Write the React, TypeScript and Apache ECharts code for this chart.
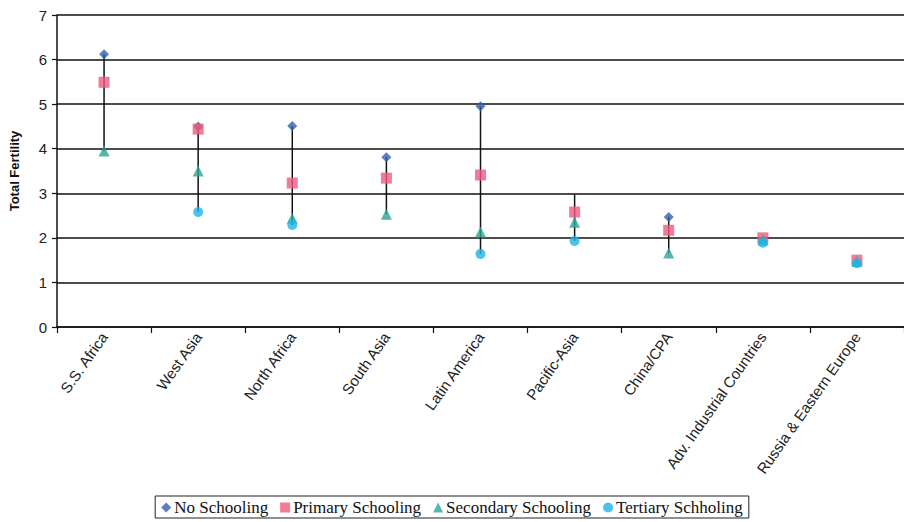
import React, { useEffect, useRef } from "react";
import * as echarts from "echarts";

const categories = [
  "S.S. Africa",
  "West Asia",
  "North Africa",
  "South Asia",
  "Latin America",
  "Pacific-Asia",
  "China/CPA",
  "Adv. Industrial Countries",
  "Russia & Eastern Europe",
];
const noSchooling = [6.12, 4.5, 4.51, 3.81, 4.95, 2.97, 2.47, null, null];
const primarySchooling = [5.49, 4.44, 3.23, 3.34, 3.41, 2.58, 2.17, 2.0, 1.5];
const secondarySchooling = [3.95, 3.5, 2.44, 2.53, 2.13, 2.35, 1.66, 1.95, 1.47];
const tertiarySchooling = [null, 2.58, 2.29, null, 1.64, 1.93, null, 1.89, 1.43];
// categories whose no-schooling marker is not visible in the source (only the range line reaches it)
const hiddenNoSchooling = [5];
const yTicks = [0, 1, 2, 3, 4, 5, 6, 7];

export default function App() {
  const ref = useRef<HTMLDivElement>(null);
  useEffect(() => {
    if (!ref.current) return;
    const chart = echarts.init(ref.current, null, { renderer: "svg" });
    const all = [noSchooling, primarySchooling, secondarySchooling, tertiarySchooling];
    const ranges = categories.map((_, i) => {
      const vals = all.map((a) => a[i]).filter((v) => v !== null) as number[];
      return [i, Math.min(...vals), Math.max(...vals)];
    });
    const sans = "Liberation Sans, Arial, sans-serif";
    const serif = "Liberation Serif, Times New Roman, serif";
    chart.setOption({
      animation: false,
      backgroundColor: "#fff",
      grid: { left: 57, top: 15, width: 856, bottom: 195, containLabel: false },
      xAxis: {
        type: "category",
        data: categories,
        boundaryGap: true,
        axisLine: { lineStyle: { color: "#111", width: 1.5 } },
        axisTick: { show: true, length: 6, lineStyle: { color: "#111", width: 1.2 } },
        axisLabel: {
          rotate: 55,
          fontFamily: sans,
          fontSize: 15,
          color: "#222",
          margin: 7,
          interval: 0,
        },
        splitLine: { show: false },
      },
      yAxis: {
        type: "value",
        min: yTicks[0],
        max: yTicks[yTicks.length - 1],
        interval: 1,
        name: "Total Fertility",
        nameLocation: "middle",
        nameGap: 36,
        nameTextStyle: { fontFamily: sans, fontSize: 13, fontWeight: "bold", color: "#111" },
        axisLine: { show: true, lineStyle: { color: "#111", width: 1.5 } },
        axisTick: { show: true, length: 5, lineStyle: { color: "#111", width: 1.2 } },
        axisLabel: { fontFamily: sans, fontSize: 15, color: "#222", margin: 10 },
        splitLine: { show: true, lineStyle: { color: "#111", width: 1.5 } },
      },
      legend: {
        data: ["No Schooling", "Primary Schooling", "Secondary Schooling", "Tertiary Schholing"],
        left: "center",
        top: 496,
        borderColor: "#222",
        borderWidth: 1,
        padding: [3, 6, 2, 6],
        itemWidth: 10,
        itemHeight: 10,
        itemGap: 12,
        textStyle: { fontFamily: serif, fontSize: 17, color: "#111", padding: [0, 0, 0, -2] },
      },
      series: [
        {
          type: "custom",
          name: "range",
          data: ranges,
          z: 1,
          renderItem: (params: any, api: any) => {
            const p1 = api.coord([api.value(0), api.value(1)]);
            const p2 = api.coord([api.value(0), api.value(2)]);
            return {
              type: "line",
              shape: { x1: p1[0], y1: p1[1], x2: p2[0], y2: p2[1] },
              style: { stroke: "#111", lineWidth: 1.5 },
            };
          },
        },
        {
          type: "scatter",
          name: "No Schooling",
          symbol: "diamond",
          symbolSize: 10,
          itemStyle: { color: "#2F5FAE" },
          z: 3,
          data: noSchooling.map((v, i) =>
            hiddenNoSchooling.includes(i) ? { value: v, symbolSize: 0 } : v
          ),
        },
        {
          type: "scatter",
          name: "Primary Schooling",
          symbol: "rect",
          symbolSize: 11,
          itemStyle: { color: "#EE5A7E" },
          z: 4,
          data: primarySchooling,
        },
        {
          type: "scatter",
          name: "Secondary Schooling",
          symbol: "triangle",
          symbolSize: 11,
          itemStyle: { color: "#2BA596" },
          z: 5,
          data: secondarySchooling,
        },
        {
          type: "scatter",
          name: "Tertiary Schholing",
          symbol: "circle",
          symbolSize: 10,
          itemStyle: { color: "#1DB5EA" },
          z: 6,
          data: tertiarySchooling,
        },
      ],
    });
    return () => chart.dispose();
  }, []);
  return (
    <div
      ref={ref}
      style={{ position: "fixed", left: 0, top: 0, width: 904, height: 522, background: "#fff" }}
    />
  );
}
